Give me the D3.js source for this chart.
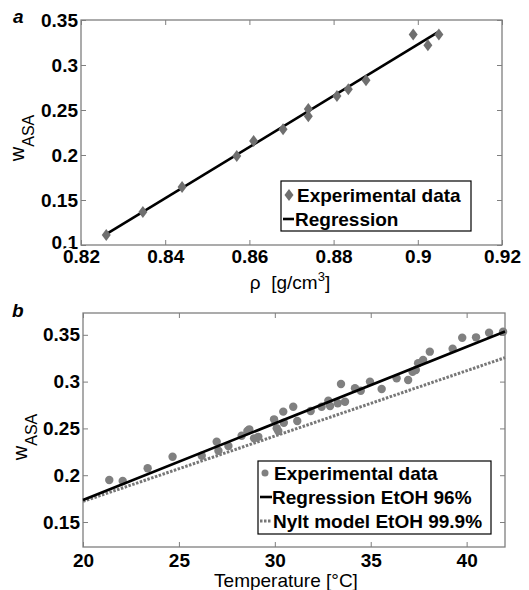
<!DOCTYPE html>
<html lang="en">
<head>
    <meta charset="UTF-8">
    <title>wASA</title>
    <script src="https://cdn.jsdelivr.net/npm/d3@7"></script>
</head>
<body style="margin:0;background:#fff">
<style>
    svg text { font-family: "Liberation Sans", Arial, sans-serif; }
    .tick text { font-size: 19px; font-weight: bold; fill: #000; }
    .tick line { stroke: #7f7f7f; }
</style>
<script>
    // panel a : density
    var rhoVals = [0.826, 0.8347, 0.844, 0.857, 0.861, 0.868, 0.874, 0.874, 0.8808, 0.8835, 0.8877, 0.8989, 0.9024, 0.905];
    var wRhoVals = [0.111, 0.1367, 0.1645, 0.199, 0.2156, 0.2285, 0.243, 0.251, 0.2656, 0.273, 0.283, 0.334, 0.322, 0.334];
    var rhoFitX = [0.826, 0.905];
    var rhoFitY = [0.112, 0.337];
    var rhoTicks = [0.82, 0.84, 0.86, 0.88, 0.9, 0.92];
    var wTicksA = [0.1, 0.15, 0.2, 0.25, 0.3, 0.35];

    // panel b : temperature
    var tempVals = [21.37, 22.07, 23.37, 24.67, 26.19, 27.06, 26.97, 27.58, 28.27, 28.57, 28.67, 28.92, 29.14,
        29.96, 30.1, 30.18, 30.44, 30.47, 30.96, 31.17, 31.87, 32.44, 32.79, 32.88, 33.28, 33.45, 33.66,
        34.18, 34.48, 34.96, 35.57, 36.35, 36.95, 37.18, 37.35, 37.47, 37.73, 38.08, 39.27, 39.77, 40.49, 41.17, 41.9];
    var wTempVals = [0.1949, 0.1938, 0.2074, 0.2198, 0.2208, 0.2262, 0.2358, 0.2312, 0.2422, 0.2472, 0.249, 0.2394, 0.241,
        0.2597, 0.2501, 0.2472, 0.2679, 0.2561, 0.2732, 0.2579, 0.2686, 0.2732, 0.2796, 0.2739, 0.2768, 0.2974, 0.2785,
        0.2929, 0.2903, 0.3, 0.2921, 0.3035, 0.3017, 0.3106, 0.3124, 0.3196, 0.3231, 0.332, 0.3352, 0.3469, 0.3473, 0.3522, 0.3533];
    var tempFitX = [20, 42];
    var regY = [0.1735, 0.3535];
    var nyltY = [0.172, 0.3256];
    var tempTicks = [20, 25, 30, 35, 40];
    var wTicksB = [0.15, 0.2, 0.25, 0.3, 0.35];

    var svg = d3.select("body").append("svg")
        .attr("width", 529)
        .attr("height", 590);

    var fmt = function (d) { return String(+d.toFixed(2)); };

    function frame(g, x, y, w, h, xt, yt, xPad) {
        // bottom + top ticks (inward)
        g.append("g").attr("class", "xax").attr("transform", "translate(0," + h + ")")
            .call(d3.axisBottom(x).tickValues(xt).tickFormat(fmt).tickSize(-5).tickPadding(xPad))
            .call(function (a) { a.select(".domain").remove(); });
        g.append("g")
            .call(d3.axisTop(x).tickValues(xt).tickFormat("").tickSize(-5))
            .call(function (a) { a.select(".domain").remove(); });
        g.append("g").attr("class", "yax")
            .call(d3.axisLeft(y).tickValues(yt).tickFormat(fmt).tickSize(-5).tickPadding(3))
            .call(function (a) { a.select(".domain").remove(); });
        g.append("g").attr("transform", "translate(" + w + ",0)")
            .call(d3.axisRight(y).tickValues(yt).tickFormat("").tickSize(-5))
            .call(function (a) { a.select(".domain").remove(); });
        g.append("rect")
            .attr("width", w).attr("height", h)
            .attr("fill", "none")
            .attr("stroke", "#7f7f7f")
            .attr("stroke-width", 1.3);
    }

    function diamond(cx, cy) {
        return "M" + cx + "," + (cy - 6) + "L" + (cx + 4.5) + "," + cy + "L" + cx + "," + (cy + 6) + "L" + (cx - 4.5) + "," + cy + "Z";
    }

    // ---------- panel a ----------
    var wA = 421, hA = 225;
    var gA = svg.append("g").attr("transform", "translate(81,20)");
    var xA = d3.scaleLinear().domain([0.82, 0.92]).range([0, wA]);
    var yA = d3.scaleLinear().domain([0.1, 0.35]).range([hA, 0]);

    frame(gA, xA, yA, wA, hA, rhoTicks, wTicksA, 5);
    // 0.1 sits a bit high and the x labels cover its lower part, like the original
    gA.select(".yax").selectAll(".tick text")
        .filter(function (d) { return d == 0.1; })
        .attr("y", -3);
    gA.select(".xax").raise()
        .selectAll(".tick text")
        .attr("stroke", "#fff").attr("stroke-width", 5).attr("paint-order", "stroke");

    gA.append("path")
        .attr("d", d3.line()(rhoFitX.map(function (v, i) { return [xA(v), yA(rhoFitY[i])]; })))
        .attr("stroke", "#000").attr("stroke-width", 2.6).attr("fill", "none");

    gA.selectAll(".pt")
        .data(rhoVals)
        .enter().append("path")
        .attr("class", "pt")
        .attr("d", function (d, i) { return diamond(xA(d), yA(wRhoVals[i])); })
        .attr("fill", "#6f6f6f");

    // legend a
    var lgA = gA.append("g").attr("transform", "translate(200,161)");
    lgA.append("rect").attr("width", 190).attr("height", 50)
        .attr("fill", "#fff").attr("stroke", "#000").attr("stroke-width", 1.2);
    lgA.append("path").attr("d", diamond(8, 14)).attr("fill", "#6f6f6f");
    lgA.append("text").attr("x", 16).attr("y", 21).attr("font-size", 19).attr("font-weight", "bold").text("Experimental data");
    lgA.append("line").attr("x1", 2).attr("x2", 13).attr("y1", 38).attr("y2", 38)
        .attr("stroke", "#000").attr("stroke-width", 2.6);
    lgA.append("text").attr("x", 14).attr("y", 45).attr("font-size", 19).attr("font-weight", "bold").text("Regression");

    svg.append("text").attr("x", 13).attr("y", 23)
        .attr("font-size", 19).attr("font-weight", "bold").attr("font-style", "italic").text("a");

    var yLabA = svg.append("text").attr("transform", "translate(24,138) rotate(-90)")
        .attr("text-anchor", "middle").attr("font-size", 20);
    yLabA.append("tspan").text("w");
    yLabA.append("tspan").attr("dy", 10).attr("font-size", 16).text("ASA");

    var xLabA = svg.append("text").attr("x", 290).attr("y", 289)
        .attr("text-anchor", "middle").attr("font-size", 19);
    xLabA.append("tspan").text("\u03c1\u00a0\u00a0[g/cm");
    xLabA.append("tspan").attr("dy", -8).attr("font-size", 13).text("3");
    xLabA.append("tspan").attr("dy", 8).text("]");

    // ---------- panel b ----------
    var wB = 422, hB = 234;
    var gB = svg.append("g").attr("transform", "translate(83,313)");
    var xB = d3.scaleLinear().domain([20, 42]).range([0, wB]);
    var yB = d3.scaleLinear().domain([0.1233, 0.3733]).range([hB, 0]);

    frame(gB, xB, yB, wB, hB, tempTicks, wTicksB, 7);

    gB.append("path")
        .attr("d", d3.line()(tempFitX.map(function (v, i) { return [xB(v), yB(nyltY[i])]; })))
        .attr("stroke", "#777").attr("stroke-width", 3).attr("stroke-dasharray", "2.5,1.5").attr("fill", "none");

    gB.selectAll(".dot")
        .data(tempVals)
        .enter().append("circle")
        .attr("class", "dot")
        .attr("cx", function (d) { return xB(d); })
        .attr("cy", function (d, i) { return yB(wTempVals[i]); })
        .attr("r", 4.2)
        .attr("fill", "#808080");

    gB.append("path")
        .attr("d", d3.line()(tempFitX.map(function (v, i) { return [xB(v), yB(regY[i])]; })))
        .attr("stroke", "#000").attr("stroke-width", 2.6).attr("fill", "none");

    // legend b
    var lgB = gB.append("g").attr("transform", "translate(175,148)");
    lgB.append("rect").attr("width", 233).attr("height", 73)
        .attr("fill", "#fff").attr("stroke", "#000").attr("stroke-width", 1.2);
    lgB.append("circle").attr("cx", 7).attr("cy", 12).attr("r", 3.5).attr("fill", "#808080");
    lgB.append("text").attr("x", 16).attr("y", 19).attr("font-size", 19).attr("font-weight", "bold").text("Experimental data");
    lgB.append("line").attr("x1", 2).attr("x2", 14).attr("y1", 36).attr("y2", 36)
        .attr("stroke", "#000").attr("stroke-width", 2.6);
    lgB.append("text").attr("x", 14).attr("y", 43).attr("font-size", 19).attr("font-weight", "bold").text("Regression EtOH 96%");
    lgB.append("line").attr("x1", 2).attr("x2", 14).attr("y1", 60).attr("y2", 60)
        .attr("stroke", "#777").attr("stroke-width", 3).attr("stroke-dasharray", "2.5,1.5");
    lgB.append("text").attr("x", 15).attr("y", 67).attr("font-size", 19).attr("font-weight", "bold").text("Nylt model EtOH 99.9%");

    svg.append("text").attr("x", 12).attr("y", 317)
        .attr("font-size", 19).attr("font-weight", "bold").attr("font-style", "italic").text("b");

    var yLabB = svg.append("text").attr("transform", "translate(27,437) rotate(-90)")
        .attr("text-anchor", "middle").attr("font-size", 20);
    yLabB.append("tspan").text("w");
    yLabB.append("tspan").attr("dy", 10).attr("font-size", 16).text("ASA");

    svg.append("text").attr("x", 286).attr("y", 587)
        .attr("text-anchor", "middle").attr("font-size", 19).text("Temperature [\u00b0C]");
</script>
</body>
</html>
